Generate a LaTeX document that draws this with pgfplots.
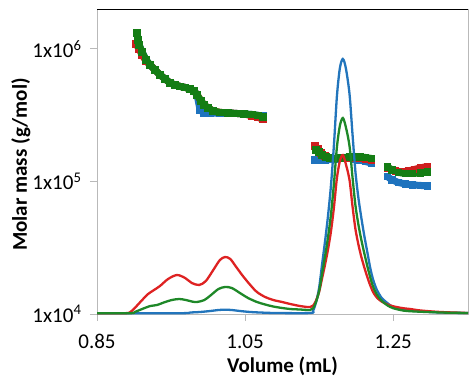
\documentclass[border=0pt]{standalone}
\usepackage{pgfplots}
\pgfplotsset{compat=1.18}
\usepackage{fontspec}
\setmainfont{Carlito}
\definecolor{tblue}{RGB}{34,117,188}
\definecolor{tred}{RGB}{222,34,34}
\definecolor{tgreen}{RGB}{30,136,40}
\definecolor{mblue}{RGB}{30,115,190}
\definecolor{mred}{RGB}{205,30,30}
\definecolor{mgreen}{RGB}{20,125,20}
\definecolor{axgray}{RGB}{185,185,185}
\pgfplotsset{
  mm/.style={line width=7pt, line join=round, mark=square*, mark size=3.2pt, mark options={line width=0pt}},
  tr/.style={line width=2.3pt, smooth, tension=0.5, no marks},
}
\begin{document}
\begin{tikzpicture}
\begin{axis}[name=main, at={(0,0)}, anchor=south west, scale only axis,
  width=371pt, height=305pt,
  xmin=0.85, xmax=1.351, ymin=1e4, ymax=2e6, ymode=log, log basis y=10,
  xtick={0.85,1.05,1.25}, xticklabels={0.85,1.05,1.25},
  ytick={1e4,1e5,1e6},
  yticklabels={1x10\textsuperscript{4},1x10\textsuperscript{5},1x10\textsuperscript{6}},
  yminorticks=false, xtick pos=left, ytick pos=left, tick align=outside,
  major tick length=7pt,
  axis line style={draw=axgray, line width=0.8pt},
  tick style={draw=axgray, line width=0.8pt},
  tick label style={font=\fontsize{21}{25}\selectfont, text=black},
  xticklabel style={yshift=-10pt},
  yticklabel style={xshift=-5pt},
  xlabel={Volume (mL)}, ylabel={Molar mass (g/mol)},
  label style={font=\fontsize{21}{25}\selectfont\bfseries},
  xlabel style={at={(axis description cs:0.5,-0.17)}, anchor=center},
  ylabel style={at={(axis description cs:-0.205,0.49)}, anchor=center},
]
% segment A
\addplot[mblue, mm] coordinates {
(0.9068,1.072e6) (0.9108,9.49e5) (0.9162,8.26e5) (0.9216,7.57e5) (0.9284,6.94e5)
(0.9351,6.37e5) (0.9419,5.94e5) (0.9486,5.54e5) (0.9554,5.35e5) (0.9622,5.21e5)
(0.9689,5.12e5) (0.9757,4.99e5) (0.9811,4.82e5) (0.9851,4.50e5) (0.9892,3.46e5)
(0.9946,3.29e5) (1.0027,3.26e5) (1.0162,3.29e5) (1.0270,3.29e5) (1.0378,3.26e5)
(1.0486,3.23e5) (1.0595,3.20e5) (1.0676,3.15e5) (1.0743,3.12e5)};
\addplot[mred, mm] coordinates {
(0.9027,1.09e6) (0.9068,1.0e6) (0.9108,9.01e5) (0.9162,8.12e5) (0.9216,7.57e5)
(0.9284,6.94e5) (0.9351,6.37e5) (0.9419,5.94e5) (0.9486,5.54e5) (0.9554,5.35e5)
(0.9622,5.21e5) (0.9689,5.12e5) (0.9757,4.99e5) (0.9811,4.82e5) (0.9851,4.50e5)
(0.9905,4.05e5) (0.9946,3.78e5) (1.0000,3.59e5) (1.0068,3.40e5) (1.0162,3.32e5)
(1.0270,3.29e5) (1.0378,3.26e5) (1.0486,3.23e5) (1.0595,3.12e5) (1.0676,3.04e5)
(1.0743,2.94e5)};
\addplot[mgreen, mm] coordinates {
(0.9041,1.32e6) (0.9055,1.17e6) (0.9068,1.072e6) (0.9108,9.49e5) (0.9162,8.26e5)
(0.9216,7.57e5) (0.9284,6.94e5) (0.9351,6.37e5) (0.9419,5.94e5) (0.9486,5.54e5)
(0.9554,5.35e5) (0.9622,5.21e5) (0.9689,5.12e5) (0.9757,4.99e5) (0.9811,4.82e5)
(0.9851,4.50e5) (0.9905,4.05e5) (0.9946,3.78e5) (1.0000,3.59e5) (1.0068,3.40e5)
(1.0162,3.32e5) (1.0270,3.29e5) (1.0378,3.26e5) (1.0486,3.23e5) (1.0595,3.20e5)
(1.0676,3.15e5) (1.0743,3.07e5)};
% segment B
\addplot[mblue, mm] coordinates {
(1.1446,1.453e5) (1.1514,1.440e5) (1.1581,1.440e5) (1.1649,1.466e5) (1.1716,1.478e5)
(1.1784,1.491e5) (1.1851,1.491e5) (1.1919,1.491e5) (1.1986,1.478e5) (1.2054,1.453e5)
(1.2122,1.415e5) (1.2203,1.379e5)};
\addplot[mred, mm] coordinates {
(1.1446,1.853e5) (1.1486,1.759e5) (1.1527,1.641e5) (1.1581,1.557e5) (1.1649,1.504e5)
(1.1716,1.491e5) (1.1784,1.491e5) (1.1851,1.504e5) (1.1919,1.504e5) (1.1986,1.504e5)
(1.2054,1.491e5) (1.2122,1.478e5) (1.2203,1.453e5)};
\addplot[mgreen, mm] coordinates {
(1.1459,1.729e5) (1.1500,1.670e5) (1.1541,1.585e5) (1.1595,1.531e5) (1.1649,1.504e5)
(1.1716,1.491e5) (1.1784,1.504e5) (1.1851,1.517e5) (1.1919,1.531e5) (1.1986,1.531e5)
(1.2054,1.531e5) (1.2122,1.517e5) (1.2203,1.491e5)};
% segment C
\addplot[mblue, mm] coordinates {
(1.2419,1.091e5) (1.2486,1.026e5) (1.2568,9.83e4) (1.2662,9.57e4) (1.2757,9.41e4)
(1.2865,9.33e4) (1.2959,9.25e4)};
\addplot[mred, mm] coordinates {
(1.2419,1.265e5) (1.2527,1.200e5) (1.2622,1.180e5) (1.2703,1.200e5) (1.2784,1.232e5)
(1.2865,1.265e5) (1.2959,1.298e5)};
\addplot[mgreen, mm] coordinates {
(1.2419,1.287e5) (1.2486,1.222e5) (1.2568,1.169e5) (1.2662,1.149e5) (1.2757,1.149e5)
(1.2865,1.159e5) (1.2959,1.180e5)};
\end{axis}
\begin{axis}[at={(0,0)}, anchor=south west, scale only axis,
  width=371pt, height=305pt,
  xmin=0.85, xmax=1.351, ymin=0, ymax=305, hide axis]
\addplot[tblue, tr] table {
0.850 0.8
0.962 0.8
0.976 1.5
0.989 2
1.003 3
1.014 4
1.023 4.3
1.032 4
1.043 3
1.057 2
1.070 1.5
1.091 1
1.138 1
1.142 3.5
1.146 12.4
1.150 26.4
1.154 50
1.158 73
1.162 98.5
1.166 129
1.170 169.6
1.174 218
1.178 246
1.182 255
1.186 246
1.191 220
1.195 180
1.199 142
1.203 116
1.207 96
1.211 78
1.215 62
1.219 46
1.223 34
1.228 24
1.234 16.5
1.242 11
1.250 7
1.264 4.5
1.280 3
1.314 1.5
1.351 1
};
\addplot[tred, tr] table {
0.850 0.8
0.888 0.8
0.895 2
0.901 6
0.911 14
0.919 20
0.927 24
0.935 28
0.946 35
0.958 39
0.969 36
0.978 31
0.988 29
0.997 33
1.007 44
1.016 54
1.023 57
1.030 55
1.038 47
1.047 38
1.057 29
1.066 22
1.077 17
1.088 14
1.100 12
1.111 10
1.124 8
1.134 7
1.138 7
1.142 8.5
1.146 13.8
1.150 22.2
1.154 35.9
1.158 49.6
1.162 64.8
1.166 83
1.170 107
1.174 136
1.178 153
1.182 159
1.186 150
1.191 134
1.195 108
1.199 85
1.203 69.5
1.207 57
1.211 46.5
1.215 37
1.219 28.6
1.223 21.7
1.228 16.4
1.234 12.6
1.242 9.6
1.250 7.7
1.264 5.7
1.273 5
1.287 3.5
1.314 2
1.351 1
};
\addplot[tgreen, tr] table {
0.850 0.8
0.895 0.8
0.901 2
0.911 5
0.922 8
0.931 9
0.942 12
0.951 14
0.961 15
0.970 14
0.978 12.5
0.985 12
0.995 14
1.004 19
1.014 25
1.023 27
1.032 26
1.043 21
1.054 16
1.066 12
1.077 9.5
1.088 7.5
1.100 6
1.111 5
1.124 4.5
1.138 4
1.142 5.9
1.146 12.6
1.150 23.2
1.154 40.5
1.158 57.8
1.162 77
1.166 100
1.170 130.7
1.174 167
1.178 188.3
1.182 196
1.186 187
1.191 168
1.195 137
1.199 108.6
1.203 89.4
1.207 74
1.211 60.6
1.215 48
1.219 36.6
1.223 27
1.228 19.3
1.234 13.5
1.242 8.7
1.250 5.8
1.264 3.4
1.280 2.5
1.314 1.5
1.351 1
};
\end{axis}
\draw[black, line width=0.8pt] (main.north west) -- (main.north east);
\pgfresetboundingbox
\path (-97pt,-75pt) rectangle (379pt,314pt);
\end{tikzpicture}
\end{document}
